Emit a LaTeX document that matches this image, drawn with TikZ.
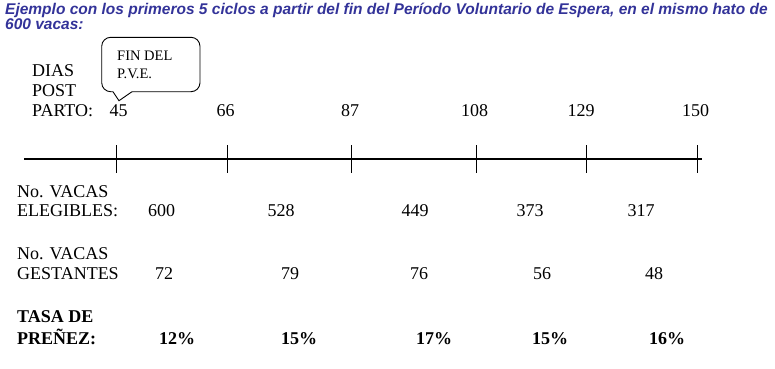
\documentclass[tikz,border=0pt]{standalone}
\usepackage{fontspec}
\setmainfont{Liberation Serif}
\newfontfamily\titlefont{Liberation Sans}
\definecolor{titleblue}{RGB}{51,51,153}
\tikzset{
  txt/.style={inner sep=0pt, anchor=base west, font=\fontsize{18}{20}\selectfont},
  num/.style={inner sep=0pt, anchor=base, font=\fontsize{18}{20}\selectfont},
  bnum/.style={inner sep=0pt, anchor=base, font=\fontsize{18}{20}\selectfont\bfseries},
  btxt/.style={inner sep=0pt, anchor=base west, font=\fontsize{18}{20}\selectfont\bfseries},
  ttl/.style={inner sep=0pt, anchor=base west, text=titleblue, font=\fontsize{15.5}{17}\titlefont\bfseries\itshape},
  small/.style={inner sep=0pt, anchor=base west, font=\fontsize{14.5}{16}\selectfont},
  axis/.style={line width=1.3pt},
  tick/.style={line width=1.1pt},
  bubble/.style={line width=0.9pt}
}
\begin{document}
\begin{tikzpicture}[x=1pt,y=-1pt]
\useasboundingbox (0,0) rectangle (775,368);
% title
\node[ttl] (t1) at (5,14) {Ejemplo con los primeros 5 ciclos a partir del fin del Período Voluntario de Espera, en el mismo hato de};
\node[ttl] (t2) at (5,29.5) {600 vacas:};
% callout
\draw[bubble, rounded corners=9pt] (132,91.7) -- (200,91.7) -- (200,37.3) -- (101.7,37.3) -- (101.7,91.7) -- (113,91.7);
\draw[bubble] (113,91.7) -- (119,100.7) -- (132,91.7);
\node[small] (f1) at (117,60.7) {FIN DEL};
\node[small] (f2) at (117,78.3) {P.V.E.};
% dias post parto
\node[txt] (d1) at (32,76.5) {DIAS};
\node[txt] (d2) at (32,96) {POST};
\node[txt] (d3) at (32,116) {PARTO:};
\node[num] (n1) at (118.5,116) {45};
\node[num] (n2) at (225.5,116) {66};
\node[num] (n3) at (350,116) {87};
\node[num] (n4) at (474.5,116) {108};
\node[num] (n5) at (581,116) {129};
\node[num] (n6) at (695.5,116) {150};
% axis
\coordinate (a0) at (24,159);
\coordinate (a1) at (702,159);
\draw[axis] (a0) -- (a1);
\foreach \x in {116.3,227.3,351.3,476.7,586.7,697.7}
  \draw[tick] (\x,145) -- (\x,173);
% elegibles
\node[txt] (e1) at (17,197) {No. VACAS};
\node[txt] (e2) at (17,216.5) {ELEGIBLES:};
\node[num] (e3) at (161.7,216.5) {600};
\node[num] (e4) at (281,216.5) {528};
\node[num] (e5) at (415,216.5) {449};
\node[num] (e6) at (530,216.5) {373};
\node[num] (e7) at (641,216.5) {317};
% gestantes
\node[txt] (g1) at (17,259) {No. VACAS};
\node[txt] (g2) at (17,279) {GESTANTES};
\node[num] (g3) at (164,279) {72};
\node[num] (g4) at (290,279) {79};
\node[num] (g5) at (419,279) {76};
\node[num] (g6) at (542,279) {56};
\node[num] (g7) at (654,279) {48};
% tasa
\node[btxt] (p1) at (17,322.5) {TASA DE};
\node[btxt] (p2) at (17,344) {PREÑEZ:};
\node[bnum] (p3) at (177,344) {12\%};
\node[bnum] (p4) at (299,344) {15\%};
\node[bnum] (p5) at (434,344) {17\%};
\node[bnum] (p6) at (550,344) {15\%};
\node[bnum] (p7) at (667,344) {16\%};
\end{tikzpicture}
\end{document}
